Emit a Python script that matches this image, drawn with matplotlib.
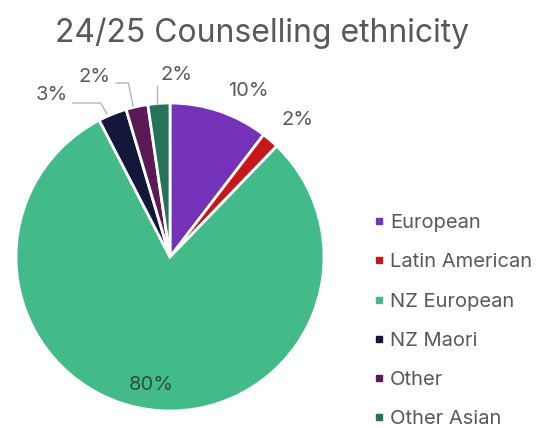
import matplotlib
matplotlib.use("Agg")
import matplotlib.pyplot as plt
from matplotlib.lines import Line2D

plt.rcParams['font.family'] = ['Inter', 'DejaVu Sans']

categories = ["European", "Latin American", "NZ European", "NZ Maori", "Other", "Other Asian"]
shares = [10.4, 1.8, 80.2, 3.0, 2.3, 2.3]
colors = ["#7432B8", "#C8161D", "#42BB89", "#13183A", "#5A1A55", "#25735A"]
text_grey = "#595959"

fig = plt.figure(figsize=(5.41, 4.28), dpi=100)
W, H = 541, 428
R_PX = 154
cx, cy = 170, H - 257
lim = 1.3
span = 2 * lim * R_PX
ax = fig.add_axes([(cx - span / 2) / W, (cy - span / 2) / H, span / W, span / H])

wedges, _ = ax.pie(shares, colors=colors, startangle=90, counterclock=False,
                   radius=1.0, wedgeprops=dict(edgecolor="white", linewidth=2))
ax.set_xlim(-lim, lim)
ax.set_ylim(-lim, lim)
ax.set_aspect("equal")
ax.axis("off")

total = sum(shares)
labels = [f"{v / total * 100:.0f}%" for v in shares]

# label placement: text position and optional leader line path
placement = {
    0: dict(xy=(0.51, 1.08), leader=None),
    1: dict(xy=(0.83, 0.89), leader=None),
    2: dict(xy=(-0.12, -0.83), leader=None),
    3: dict(xy=(-0.77, 1.05), leader=[(-0.63, 1.0), (-0.45, 1.0), (-0.41, 0.93)]),
    4: dict(xy=(-0.49, 1.17), leader=[(-0.35, 1.13), (-0.27, 1.13), (-0.24, 0.98)]),
    5: dict(xy=(0.045, 1.18), leader=[(-0.083, 1.11), (-0.083, 0.995)]),
}

for i, w in enumerate(wedges):
    p = placement[i]
    col = "#2d4f3e" if i == 2 else text_grey
    ax.text(p["xy"][0], p["xy"][1], labels[i], ha="center", va="center",
            fontsize=14.5, color=col, clip_on=False)
    if p["leader"]:
        xs, ys = zip(*p["leader"])
        ax.add_line(Line2D(xs, ys, color="#b5b5b5", lw=1.0, clip_on=False))

fig.text(262 / W, 1 - 33 / H, "24/25 Counselling ethnicity", ha="center", va="center",
         fontsize=23, color=text_grey)

handles = [Line2D([0], [0], marker="s", linestyle="none", markersize=5,
                  markerfacecolor=c, markeredgecolor=c) for c in colors]
leg = fig.legend(handles, categories, loc="upper left",
                 bbox_to_anchor=(374 / W, 1 - 214 / H), frameon=False,
                 fontsize=14.5, labelspacing=1.05, handlelength=0.5,
                 handletextpad=0.3, borderaxespad=0, borderpad=0)
for t in leg.get_texts():
    t.set_color(text_grey)

fig.savefig("out.png", dpi=100, facecolor="white")
